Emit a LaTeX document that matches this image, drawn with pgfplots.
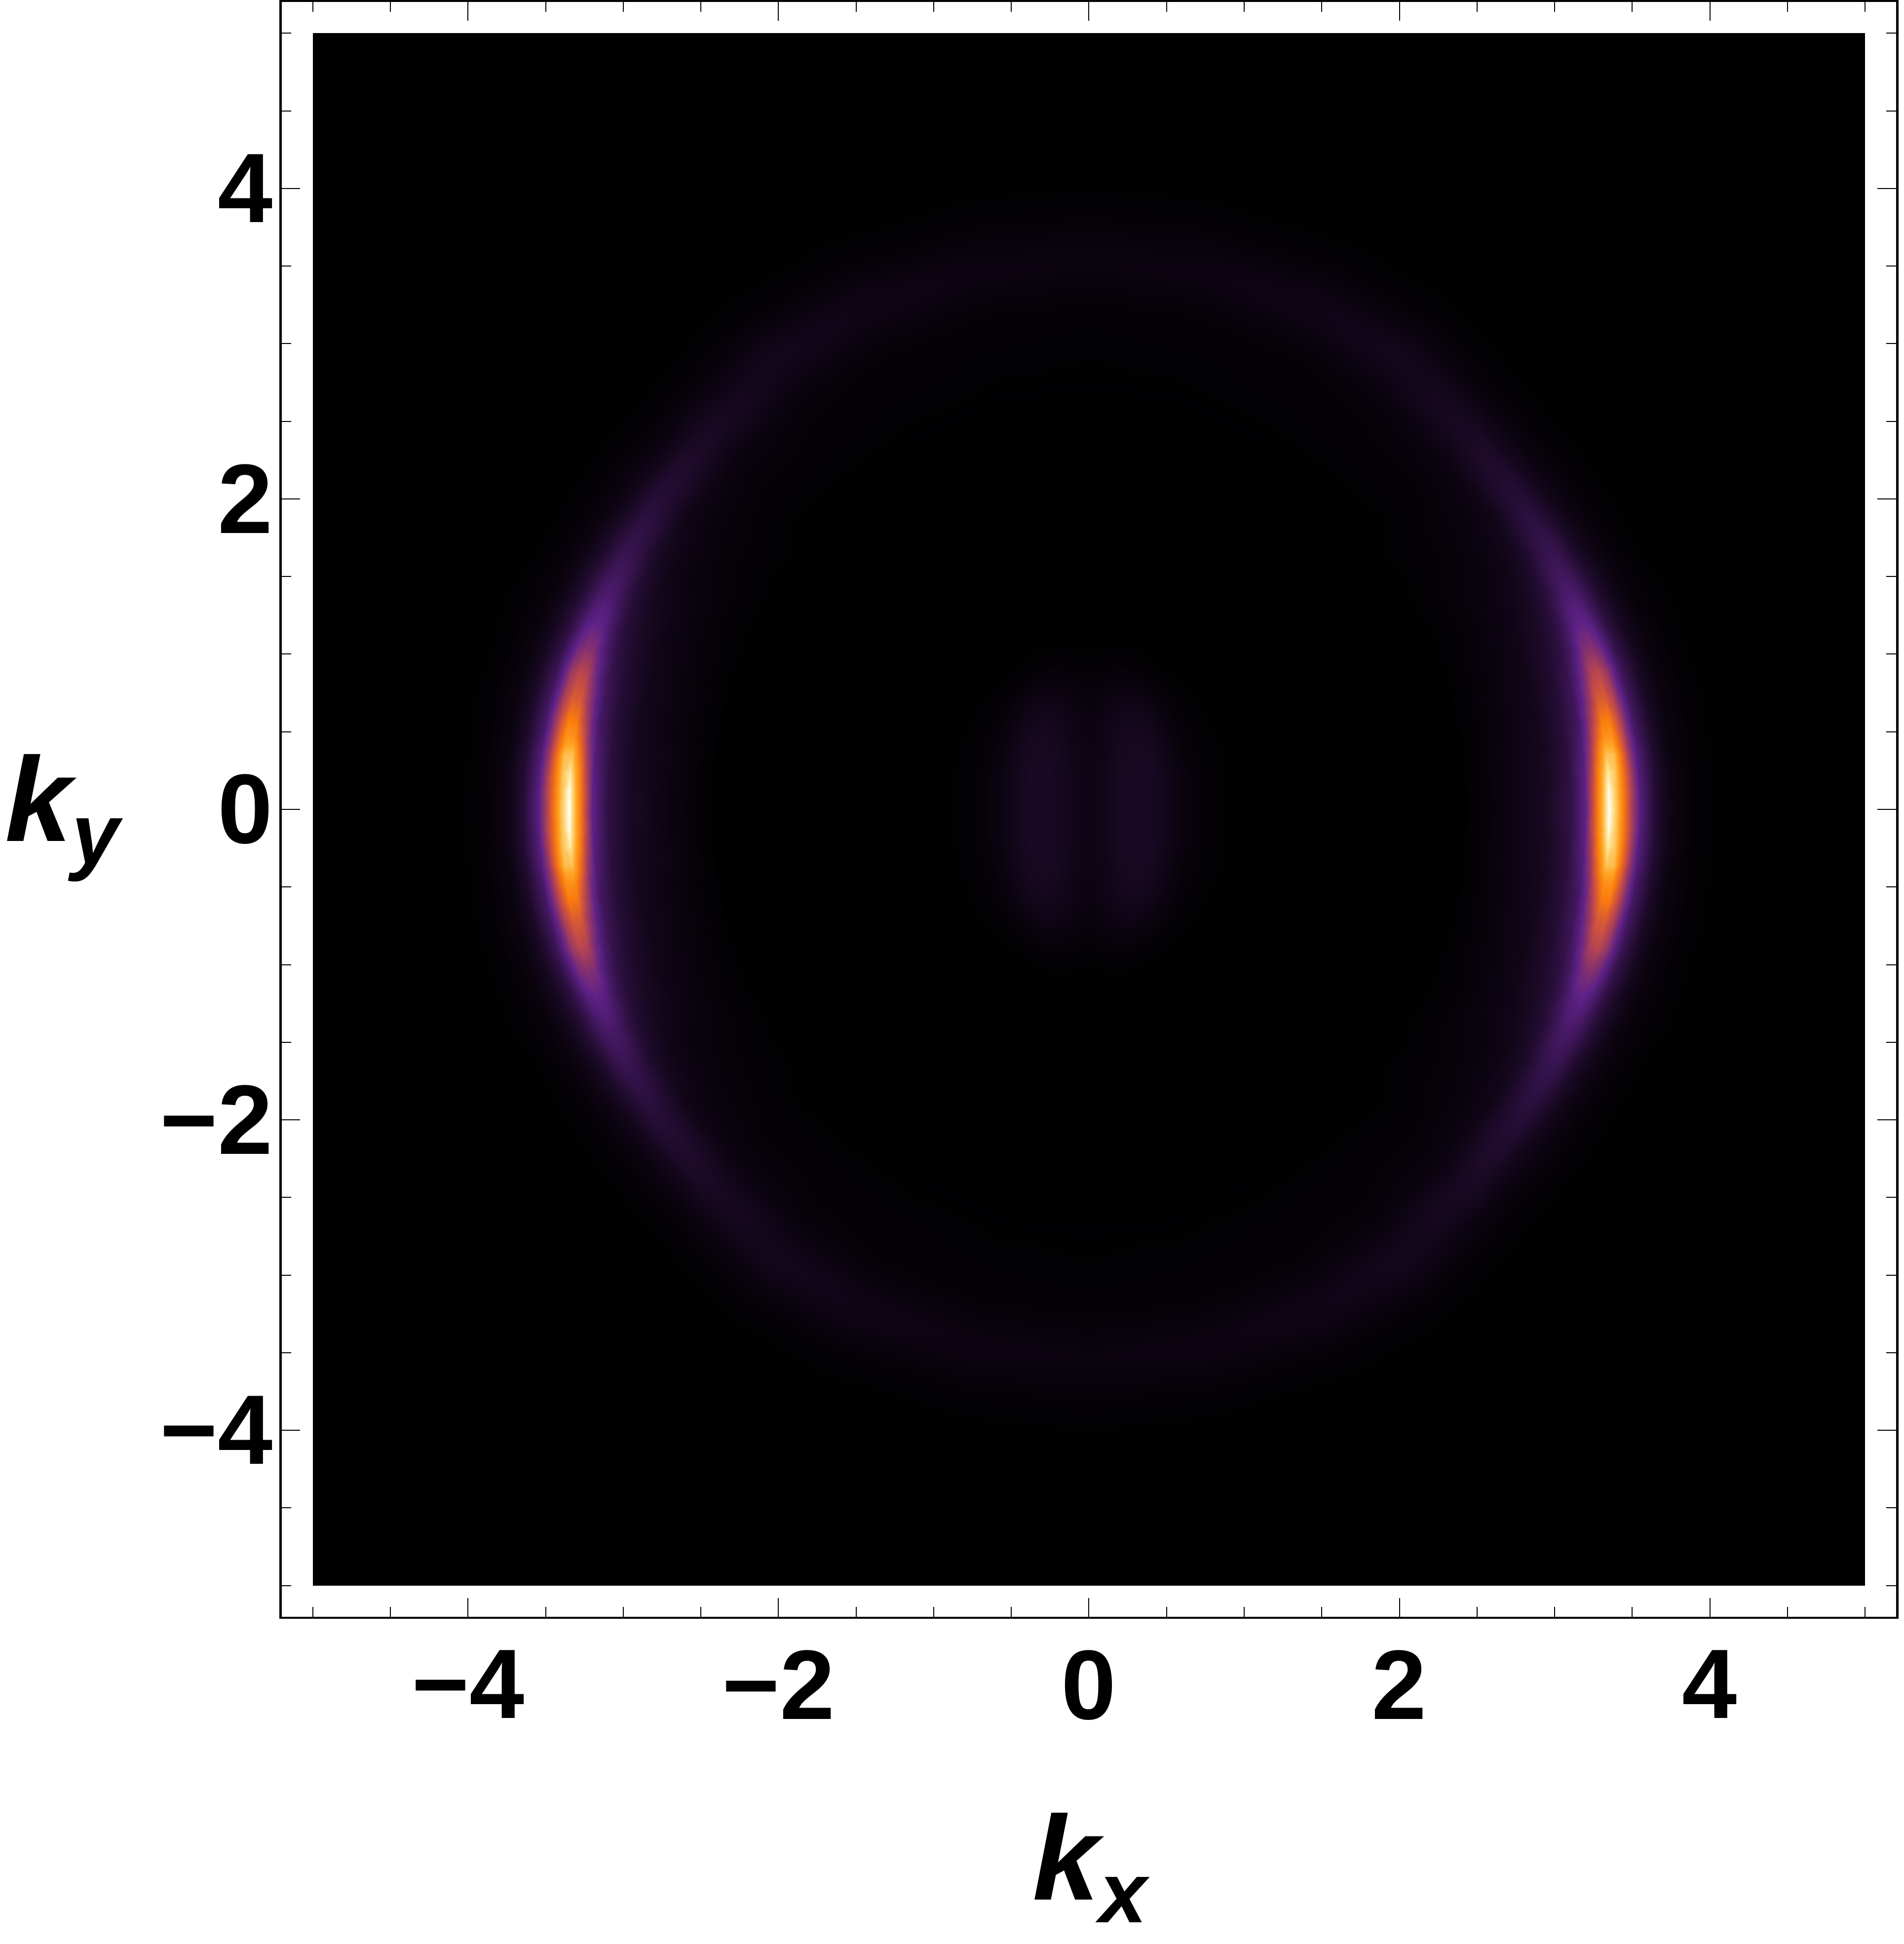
\documentclass[border=0pt]{standalone}
\usepackage{fontspec}
\setmainfont{Liberation Sans}
\usepackage{pgfplots}
\usepackage{pgfplotstable}
\pgfplotsset{compat=1.18}

% ring, one quadrant: angle t (deg), radius r, intensity v
\pgfplotstableread[row sep=\\]{
t r v\\
0 2.4 0\\ 0 2.7 .03\\ 0 2.95 .065\\ 0 3.1 .125\\ 0 3.2 .25\\ 0 3.25 .47\\ 0 3.3 .73\\ 0 3.35 1\\ 0 3.4 .82\\ 0 3.45 .57\\ 0 3.5 .38\\ 0 3.55 .23\\ 0 3.65 .09\\ 0 3.75 .035\\ 0 3.9 .01\\ 0 4.1 0\\ 0 4.4 0\\
2 2.4 0\\ 2 2.7 .03\\ 2 2.95 .065\\ 2 3.1 .125\\ 2 3.2 .25\\ 2 3.25 .46\\ 2 3.3 .72\\ 2 3.35 .99\\ 2 3.4 .82\\ 2 3.45 .57\\ 2 3.5 .38\\ 2 3.55 .23\\ 2 3.65 .09\\ 2 3.75 .035\\ 2 3.9 .01\\ 2 4.1 0\\ 2 4.4 0\\
4 2.4 0\\ 4 2.7 .03\\ 4 2.95 .06\\ 4 3.1 .12\\ 4 3.2 .24\\ 4 3.25 .42\\ 4 3.3 .68\\ 4 3.35 .93\\ 4 3.4 .83\\ 4 3.45 .57\\ 4 3.5 .37\\ 4 3.55 .22\\ 4 3.65 .09\\ 4 3.75 .035\\ 4 3.9 .01\\ 4 4.1 0\\ 4 4.4 0\\
6 2.4 0\\ 6 2.7 .03\\ 6 2.95 .06\\ 6 3.1 .115\\ 6 3.2 .22\\ 6 3.25 .37\\ 6 3.3 .6\\ 6 3.35 .83\\ 6 3.4 .81\\ 6 3.45 .55\\ 6 3.5 .35\\ 6 3.55 .21\\ 6 3.65 .085\\ 6 3.75 .03\\ 6 3.9 .01\\ 6 4.1 0\\ 6 4.4 0\\
8 2.4 0\\ 8 2.7 .03\\ 8 2.95 .055\\ 8 3.1 .11\\ 8 3.2 .2\\ 8 3.25 .32\\ 8 3.3 .5\\ 8 3.35 .68\\ 8 3.4 .68\\ 8 3.45 .5\\ 8 3.5 .32\\ 8 3.55 .19\\ 8 3.65 .08\\ 8 3.75 .03\\ 8 3.9 .01\\ 8 4.1 0\\ 8 4.4 0\\
10 2.4 0\\ 10 2.7 .025\\ 10 2.95 .055\\ 10 3.1 .105\\ 10 3.2 .18\\ 10 3.25 .28\\ 10 3.3 .43\\ 10 3.35 .59\\ 10 3.4 .6\\ 10 3.45 .46\\ 10 3.5 .3\\ 10 3.55 .18\\ 10 3.65 .075\\ 10 3.75 .03\\ 10 3.9 .01\\ 10 4.1 0\\ 10 4.4 0\\
12 2.4 0\\ 12 2.7 .025\\ 12 2.95 .05\\ 12 3.1 .1\\ 12 3.2 .17\\ 12 3.25 .25\\ 12 3.3 .37\\ 12 3.35 .5\\ 12 3.4 .51\\ 12 3.45 .41\\ 12 3.5 .27\\ 12 3.55 .165\\ 12 3.65 .07\\ 12 3.75 .03\\ 12 3.9 .01\\ 12 4.1 0\\ 12 4.4 0\\
15 2.4 0\\ 15 2.7 .025\\ 15 2.95 .05\\ 15 3.1 .09\\ 15 3.2 .15\\ 15 3.25 .21\\ 15 3.3 .3\\ 15 3.35 .41\\ 15 3.4 .43\\ 15 3.45 .36\\ 15 3.5 .24\\ 15 3.55 .15\\ 15 3.65 .065\\ 15 3.75 .025\\ 15 3.9 .008\\ 15 4.1 0\\ 15 4.4 0\\
18 2.4 0\\ 18 2.7 .02\\ 18 2.95 .045\\ 18 3.1 .08\\ 18 3.2 .125\\ 18 3.25 .17\\ 18 3.3 .235\\ 18 3.35 .31\\ 18 3.4 .32\\ 18 3.45 .28\\ 18 3.5 .2\\ 18 3.55 .125\\ 18 3.65 .055\\ 18 3.75 .025\\ 18 3.9 .008\\ 18 4.1 0\\ 18 4.4 0\\
21 2.4 0\\ 21 2.7 .02\\ 21 2.95 .04\\ 21 3.1 .07\\ 21 3.2 .105\\ 21 3.25 .14\\ 21 3.3 .19\\ 21 3.35 .24\\ 21 3.4 .25\\ 21 3.45 .22\\ 21 3.5 .16\\ 21 3.55 .105\\ 21 3.65 .05\\ 21 3.75 .02\\ 21 3.9 .008\\ 21 4.1 0\\ 21 4.4 0\\
25 2.4 0\\ 25 2.7 .015\\ 25 2.95 .035\\ 25 3.1 .055\\ 25 3.2 .085\\ 25 3.25 .11\\ 25 3.3 .145\\ 25 3.35 .18\\ 25 3.4 .19\\ 25 3.45 .17\\ 25 3.5 .13\\ 25 3.55 .09\\ 25 3.65 .04\\ 25 3.75 .02\\ 25 3.9 .005\\ 25 4.1 0\\ 25 4.4 0\\
30 2.4 0\\ 30 2.7 .015\\ 30 2.95 .025\\ 30 3.1 .04\\ 30 3.2 .06\\ 30 3.25 .08\\ 30 3.3 .105\\ 30 3.35 .13\\ 30 3.4 .14\\ 30 3.45 .13\\ 30 3.5 .1\\ 30 3.55 .07\\ 30 3.65 .035\\ 30 3.75 .015\\ 30 3.9 .005\\ 30 4.1 0\\ 30 4.4 0\\
36 2.4 0\\ 36 2.7 .01\\ 36 2.95 .02\\ 36 3.1 .03\\ 36 3.2 .04\\ 36 3.25 .055\\ 36 3.3 .075\\ 36 3.35 .09\\ 36 3.4 .1\\ 36 3.45 .095\\ 36 3.5 .08\\ 36 3.55 .055\\ 36 3.65 .03\\ 36 3.75 .015\\ 36 3.9 .005\\ 36 4.1 0\\ 36 4.4 0\\
45 2.4 0\\ 45 2.7 .005\\ 45 2.95 .012\\ 45 3.1 .02\\ 45 3.2 .028\\ 45 3.25 .035\\ 45 3.3 .045\\ 45 3.35 .055\\ 45 3.4 .065\\ 45 3.45 .068\\ 45 3.5 .062\\ 45 3.55 .05\\ 45 3.65 .028\\ 45 3.75 .014\\ 45 3.9 .005\\ 45 4.1 0\\ 45 4.4 0\\
55 2.4 0\\ 55 2.7 .005\\ 55 2.95 .01\\ 55 3.1 .014\\ 55 3.2 .018\\ 55 3.25 .022\\ 55 3.3 .028\\ 55 3.35 .034\\ 55 3.4 .04\\ 55 3.45 .046\\ 55 3.5 .05\\ 55 3.55 .052\\ 55 3.65 .04\\ 55 3.75 .024\\ 55 3.9 .008\\ 55 4.1 .002\\ 55 4.4 0\\
65 2.4 0\\ 65 2.7 .004\\ 65 2.95 .008\\ 65 3.1 .01\\ 65 3.2 .013\\ 65 3.25 .016\\ 65 3.3 .02\\ 65 3.35 .025\\ 65 3.4 .03\\ 65 3.45 .035\\ 65 3.5 .038\\ 65 3.55 .04\\ 65 3.65 .035\\ 65 3.75 .022\\ 65 3.9 .008\\ 65 4.1 .002\\ 65 4.4 0\\
78 2.4 0\\ 78 2.7 .003\\ 78 2.95 .006\\ 78 3.1 .008\\ 78 3.2 .01\\ 78 3.25 .013\\ 78 3.3 .016\\ 78 3.35 .02\\ 78 3.4 .024\\ 78 3.45 .028\\ 78 3.5 .031\\ 78 3.55 .032\\ 78 3.65 .027\\ 78 3.75 .018\\ 78 3.9 .007\\ 78 4.1 .002\\ 78 4.4 0\\
90 2.4 0\\ 90 2.7 .003\\ 90 2.95 .005\\ 90 3.1 .007\\ 90 3.2 .009\\ 90 3.25 .012\\ 90 3.3 .015\\ 90 3.35 .018\\ 90 3.4 .022\\ 90 3.45 .025\\ 90 3.5 .027\\ 90 3.55 .028\\ 90 3.65 .025\\ 90 3.75 .017\\ 90 3.9 .007\\ 90 4.1 .002\\ 90 4.4 0\\
}\ringdata

% faint central blob, one quadrant
\pgfplotstableread[row sep=\\]{
x y v\\
0 0 .035\\ .1 0 .045\\ .2 0 .06\\ .3 0 .07\\ .4 0 .065\\ .5 0 .045\\ .6 0 .025\\ .75 0 .01\\ .95 0 0\\
0 .2 .035\\ .1 .2 .045\\ .2 .2 .06\\ .3 .2 .07\\ .4 .2 .065\\ .5 .2 .045\\ .6 .2 .025\\ .75 .2 .01\\ .95 .2 0\\
0 .4 .032\\ .1 .4 .042\\ .2 .4 .058\\ .3 .4 .066\\ .4 .4 .058\\ .5 .4 .038\\ .6 .4 .02\\ .75 .4 .008\\ .95 .4 0\\
0 .55 .028\\ .1 .55 .038\\ .2 .55 .05\\ .3 .55 .056\\ .4 .55 .046\\ .5 .55 .028\\ .6 .55 .014\\ .75 .55 .005\\ .95 .55 0\\
0 .7 .022\\ .1 .7 .03\\ .2 .7 .038\\ .3 .7 .04\\ .4 .7 .03\\ .5 .7 .016\\ .6 .7 .008\\ .75 .7 .003\\ .95 .7 0\\
0 .8 .016\\ .1 .8 .022\\ .2 .8 .025\\ .3 .8 .025\\ .4 .8 .016\\ .5 .8 .008\\ .6 .8 .004\\ .75 .8 .001\\ .95 .8 0\\
0 .95 .006\\ .1 .95 .008\\ .2 .95 .009\\ .3 .95 .008\\ .4 .95 .005\\ .5 .95 .002\\ .6 .95 .001\\ .75 .95 0\\ .95 .95 0\\
0 1.15 0\\ .1 1.15 0\\ .2 1.15 0\\ .3 1.15 0\\ .4 1.15 0\\ .5 1.15 0\\ .6 1.15 0\\ .75 1.15 0\\ .95 1.15 0\\
}\blobdata

\pgfplotsset{
  colormap={sunset}{rgb(0pt)=(0,0,0); rgb(25pt)=(.37,.13,.53); rgb(45pt)=(.78,.30,.27);
    rgb(60pt)=(.98,.48,.05); rgb(75pt)=(1,.65,.15); rgb(90pt)=(1,.88,.55); rgb(100pt)=(1,1,1)},
  ring/.style={surf,shader=interp,mesh/cols=17,point meta=\thisrow{v},forget plot},
  blob/.style={surf,shader=interp,mesh/cols=9,point meta=\thisrow{v},forget plot},
}
\newcommand{\labelfont}{\bfseries\fontsize{20}{20}\selectfont}

\begin{document}
\begin{tikzpicture}
\path[use as bounding box] (-56.85pt,-66.1pt) rectangle (328.95pt,327.8pt);
\begin{axis}[
    scale only axis,
    width=327.6pt, height=327.6pt,
    xmin=-5.208, xmax=5.208, ymin=-5.208, ymax=5.208,
    point meta min=0, point meta max=1,
    axis on top,
    line width=0.47pt,
    tick align=inside,
    major tick length=4pt, minor tick length=2.2pt,
    xtick={-4,-2,0,2,4}, ytick={-4,-2,0,2,4},
    xticklabels={−4,−2,0,2,4}, yticklabels={−4,−2,0,2,4},
    minor xtick={-5,-4.5,-3.5,-3,-2.5,-1.5,-1,-0.5,0.5,1,1.5,2.5,3,3.5,4.5,5},
    minor ytick={-5,-4.5,-3.5,-3,-2.5,-1.5,-1,-0.5,0.5,1,1.5,2.5,3,3.5,4.5,5},
    tick style={black},
    xticklabel style={font=\labelfont,yshift=-3pt},
    yticklabel style={font=\labelfont,xshift=2pt},
]
\addplot[fill=black,draw=none,forget plot] coordinates {(-5,-5) (5,-5) (5,5) (-5,5)} -- cycle;
\addplot[ring] table[x expr=\thisrow{r}*cos(\thisrow{t}),y expr=\thisrow{r}*sin(\thisrow{t})] {\ringdata};
\addplot[ring] table[x expr=-\thisrow{r}*cos(\thisrow{t}),y expr=\thisrow{r}*sin(\thisrow{t})] {\ringdata};
\addplot[ring] table[x expr=\thisrow{r}*cos(\thisrow{t}),y expr=-\thisrow{r}*sin(\thisrow{t})] {\ringdata};
\addplot[ring] table[x expr=-\thisrow{r}*cos(\thisrow{t}),y expr=-\thisrow{r}*sin(\thisrow{t})] {\ringdata};
\addplot[blob] table[x=x,y=y] {\blobdata};
\addplot[blob] table[x expr=-\thisrow{x},y=y] {\blobdata};
\addplot[blob] table[x=x,y expr=-\thisrow{y}] {\blobdata};
\addplot[blob] table[x expr=-\thisrow{x},y expr=-\thisrow{y}] {\blobdata};
\end{axis}
\node[anchor=base west,inner sep=0pt,font=\bfseries\itshape\fontsize{24.3}{24.3}\selectfont] at (152.2pt,-57.1pt) {k\raisebox{-4.6pt}{\fontsize{17.4}{17.4}\selectfont x}};
\node[anchor=base west,inner sep=0pt,font=\bfseries\itshape\fontsize{24.3}{24.3}\selectfont] at (-56pt,157.3pt) {k\raisebox{-4.6pt}{\fontsize{17.4}{17.4}\selectfont y}};
\end{tikzpicture}
\end{document}
